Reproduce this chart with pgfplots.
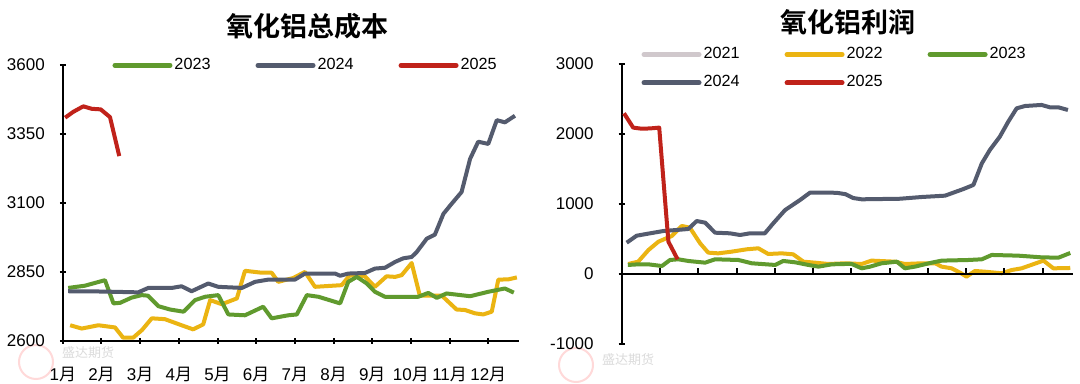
\documentclass[border=0pt]{standalone}
\usepackage{fontspec}
\setmainfont{Liberation Sans}
\newfontfamily\cjk{Noto Sans CJK SC}
\newfontfamily\cjkb{Noto Sans CJK SC Bold}
\usepackage{pgfplots}
\pgfplotsset{compat=1.18}
\definecolor{cA}{RGB}{208,200,204}
\definecolor{cB}{RGB}{235,180,18}
\definecolor{cC}{RGB}{96,154,46}
\definecolor{cD}{RGB}{84,91,110}
\definecolor{cE}{RGB}{192,34,26}
\newcommand\yue{{\cjk 月}}
\pgfplotsset{
  every non boxed x axis/.append style={x axis line style=-},
  every non boxed y axis/.append style={y axis line style=-},
  common/.style={
    scale only axis, anchor=south west,
    xmin=0, xmax=11.8,
    xtick={0,...,11},
    xticklabels={1\yue,2\yue,3\yue,4\yue,5\yue,6\yue,7\yue,8\yue,9\yue,10\yue,11\yue,12\yue},
    axis line style={-, line width=1pt},
    tick align=inside, major tick length=3pt,
    tick style={line width=1pt, black},
    ticklabel style={font=\fontsize{8.5}{9}\selectfont},
    /pgf/number format/assume math mode=true,
    /pgf/number format/1000 sep={},
    legend columns=3,
    legend image code/.code={\draw[##1, line width=2.5pt, line cap=round] (0pt,0pt) -- (27.5pt,0pt);},
    every axis plot/.append style={line width=2pt, line join=round, no markers},
  }
}
\begin{document}
\begin{tikzpicture}
\path[use as bounding box, fill=white] (0,0) rectangle (540pt,192pt);
% watermarks
\draw[red!15, line width=1pt] (18pt,11pt) circle (8.5pt);
\node[text=black!14, font=\cjk\fontsize{6.5}{7}\selectfont] at (44pt,15.5pt) {盛达期货};
\draw[red!15, line width=1pt] (288pt,9.5pt) circle (8.5pt);
\node[text=black!14, font=\cjk\fontsize{6.5}{7}\selectfont] at (314pt,12pt) {盛达期货};
% titles
\node[font=\cjkb\fontsize{13.5}{15}\selectfont] at (153.5pt,179pt) {氧化铝总成本};
\node[font=\cjkb\fontsize{13.5}{15}\selectfont] at (424pt,180.8pt) {氧化铝利润};

\begin{axis}[common,
  at={(31.4pt,21.5pt)}, width=228.2pt, height=138.2pt,
  ymin=2600, ymax=3600, ytick={2600,2850,3100,3350,3600},
  axis x line=bottom, axis y line=left,
  yticklabel style={xshift=-4pt}, xticklabel style={yshift=-8pt},
  legend style={at={(0.108,0.997)}, anchor=west, draw=none, fill=none, inner sep=0pt,
    font=\fontsize{8.1}{9}\selectfont, nodes={inner sep=1pt},
    /tikz/every even column/.append style={column sep=21.5pt}},
]
\addplot[cB, forget plot] coordinates {(0.19,2657) (0.49,2645) (0.92,2657) (1.35,2649) (1.56,2612) (1.82,2612) (2.05,2640) (2.30,2682) (2.64,2679) (3.07,2657) (3.37,2642) (3.63,2660) (3.81,2748) (4.11,2733) (4.50,2754) (4.71,2854) (5.14,2847) (5.40,2847) (5.57,2814) (5.96,2828) (6.26,2850) (6.52,2796) (7.21,2802) (7.42,2838) (7.81,2834) (8.07,2796) (8.37,2834) (8.59,2832) (8.76,2838) (9.02,2882) (9.23,2764) (9.80,2764) (10.18,2714) (10.40,2712) (10.66,2700) (10.87,2696) (11.09,2706) (11.26,2822) (11.52,2823) (11.74,2830)};
\addplot[cC] coordinates {(0.14,2792) (0.57,2800) (1.09,2820) (1.31,2736) (1.48,2738) (1.78,2757) (2.04,2766) (2.20,2764) (2.47,2726) (2.77,2714) (3.12,2706) (3.42,2748) (3.68,2760) (4.02,2766) (4.28,2696) (4.71,2693) (5.18,2724) (5.40,2682) (5.83,2693) (6.05,2696) (6.31,2766) (6.61,2760) (7.17,2736) (7.38,2814) (7.60,2832) (7.86,2808) (8.07,2778) (8.33,2760) (9.19,2760) (9.45,2774) (9.67,2756) (9.92,2772) (10.53,2762) (11.0,2778) (11.43,2790) (11.66,2775)};
\addlegendentry{2023}
\addplot[cD] coordinates {(0.14,2780) (1.0,2779) (1.95,2776) (2.21,2792) (2.82,2792) (3.07,2798) (3.33,2780) (3.76,2808) (4.02,2796) (4.63,2792) (4.97,2814) (5.31,2822) (6.0,2822) (6.26,2844) (7.04,2844) (7.17,2836) (7.38,2844) (7.81,2846) (8.07,2862) (8.33,2865) (8.59,2886) (8.80,2899) (9.02,2904) (9.15,2922) (9.41,2970) (9.62,2985) (9.84,3060) (10.05,3096) (10.31,3139) (10.53,3259) (10.74,3321) (11.0,3313) (11.22,3399) (11.43,3391) (11.69,3415)};
\addlegendentry{2024}
\addplot[cE] coordinates {(0.06,3408) (0.27,3429) (0.53,3449) (0.75,3440) (0.98,3438) (1.22,3410) (1.46,3269)};
\addlegendentry{2025}
\end{axis}

\begin{axis}[common,
  at={(310.85pt,20pt)}, width=225.8pt, height=140pt,
  ymin=-1000, ymax=3000, ytick={-1000,0,1000,2000,3000},
  axis x line=bottom, axis y line=left, x axis line style={draw=none}, xmajorticks=false,
  yticklabel style={xshift=-9pt}, xticklabel style={yshift=-6.5pt},
  legend style={at={(0.043,1.068)}, anchor=north west, draw=none, fill=none, inner sep=0pt,
    font=\fontsize{8.1}{9}\selectfont, nodes={inner sep=1pt}, row sep=5pt,
    /tikz/every even column/.append style={column sep=21.5pt}},
]
\addlegendimage{cA}
\addlegendentry{2021}
\addplot[cB] coordinates {(0.17,143) (0.43,176) (0.70,343) (0.96,462) (1.31,543) (1.57,686) (1.78,662) (2.05,438) (2.26,305) (2.52,295) (2.87,319) (3.27,353) (3.57,367) (3.83,286) (4.18,295) (4.48,281) (4.75,176) (5.05,162) (5.40,143) (5.84,153) (6.27,143) (6.53,191) (7.14,176) (7.40,143) (7.84,153) (8.19,153) (8.36,105) (8.62,81) (8.84,19) (9.01,-38) (9.23,43) (9.49,33) (9.93,10) (10.19,57) (10.45,81) (11.02,191) (11.28,81) (11.72,86)};
\addlegendentry{2022}
\addplot[cC] coordinates {(0.16,129) (0.43,138) (0.70,138) (1.05,114) (1.26,200) (1.48,210) (1.74,186) (2.18,162) (2.44,210) (3.05,200) (3.40,153) (4.01,129) (4.22,186) (4.53,167) (4.88,129) (5.14,105) (5.49,138) (5.84,143) (6.01,143) (6.27,81) (6.49,105) (6.79,153) (7.19,176) (7.40,81) (7.66,105) (8.10,162) (8.36,191) (9.06,200) (9.41,210) (9.67,272) (10.36,262) (10.97,238) (11.41,233) (11.72,300)};
\addlegendentry{2023}
\addplot[cD] coordinates {(0.13,447) (0.39,547) (0.74,581) (1.09,614) (1.44,629) (1.74,643) (1.96,757) (2.18,733) (2.44,590) (2.83,581) (3.09,557) (3.35,581) (3.74,581) (3.96,724) (4.27,914) (4.66,1057) (4.92,1162) (5.36,1162) (5.62,1160) (5.85,1140) (6.05,1085) (6.27,1067) (7.27,1075) (7.84,1100) (8.45,1119) (8.62,1153) (8.93,1214) (9.19,1272) (9.41,1581) (9.62,1772) (9.88,1962) (10.10,2176) (10.32,2367) (10.54,2400) (10.97,2415) (11.19,2381) (11.41,2381) (11.66,2343)};
\addlegendentry{2024}
\addplot[cE] coordinates {(0.06,2296) (0.30,2091) (0.53,2075) (0.75,2080) (0.98,2091) (1.22,462) (1.46,210)};
\addlegendentry{2025}
\draw[line width=1pt] (axis cs:0,0) -- (axis cs:11.8,0);
\pgfplotsinvokeforeach{1,...,11}{\draw[line width=1pt] (axis cs:#1,0) -- ([yshift=3pt]axis cs:#1,0);}
\end{axis}
\end{tikzpicture}
\end{document}
